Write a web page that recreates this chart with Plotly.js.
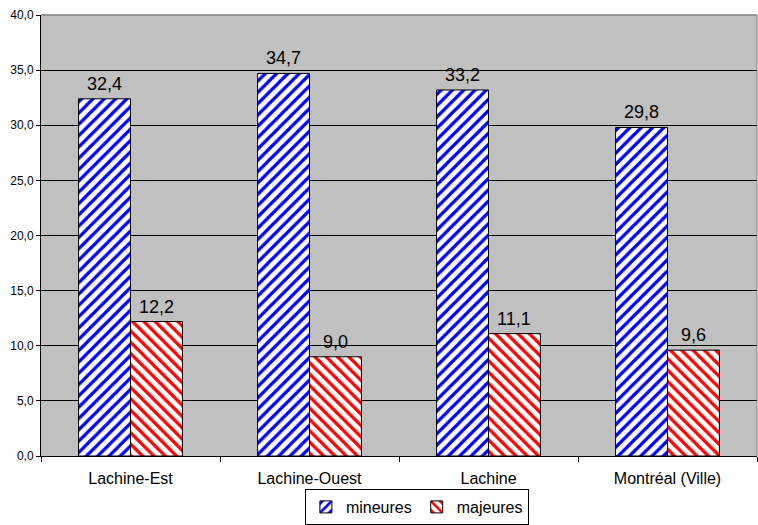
<!DOCTYPE html>
<html><head><meta charset="utf-8">
<script src="https://cdn.plot.ly/plotly-3.0.1.min.js"></script>
<style>body{margin:0;padding:0;background:#fff}#chart{width:758px;height:525px}</style>
</head><body><div id="chart"></div>
<script>
const categories = ["Lachine-Est", "Lachine-Ouest", "Lachine", "Montréal (Ville)"];
const mineures = [32.4, 34.7, 33.2, 29.8];
const majeures = [12.2, 9.0, 11.1, 9.6];
const seriesNames = ["mineures", "majeures"];

const font = "Liberation Sans, Arial, sans-serif";
const bargap = 0.42;
const half = (1 - bargap) / 4;
const fmt = v => v.toFixed(1).replace(".", ",");

const traces = [
  {type:"bar", name:seriesNames[0], x:categories, y:mineures,
   marker:{color:"#ffffff", line:{color:"#000", width:1},
     pattern:{shape:"/", fgcolor:"#0000ff", bgcolor:"#ffffff", size:8, solidity:0.4}}},
  {type:"bar", name:seriesNames[1], x:categories, y:majeures,
   marker:{color:"#ffffff", line:{color:"#000", width:1},
     pattern:{shape:"\\", fgcolor:"#ff0000", bgcolor:"#ffffff", size:8, solidity:0.4}}}
];
const annotations = [];
[mineures, majeures].forEach((arr, s) => {
  arr.forEach((v, i) => {
    annotations.push({x: i + (s === 0 ? -half : half), y: v, xref:"x", yref:"y",
      text: fmt(v), showarrow:false, yanchor:"bottom", yshift:3,
      font:{size:18, color:"#000", family:font}});
  });
});
const layout = {
  width:758, height:525,
  margin:{l:41, r:1, t:15, b:69},
  paper_bgcolor:"#ffffff", plot_bgcolor:"#c0c0c0",
  separators:", ",
  font:{family:font, size:12, color:"#000"},
  bargap:bargap, bargroupgap:0,
  showlegend:true,
  legend:{orientation:"h", x:0.55, xanchor:"center", xref:"container", yref:"container", y:0.0, yanchor:"bottom",
    bordercolor:"#000", borderwidth:1, bgcolor:"#fff", font:{size:16, family:font},
    itemwidth:30, tracegroupgap:0},
  xaxis:{type:"category", showline:true, linecolor:"#000", linewidth:1,
    ticks:"outside", ticklen:5, tickcolor:"#000", tickson:"boundaries",
    tickfont:{size:16}, ticklabelstandoff:8, showgrid:false, zeroline:false},
  yaxis:{range:[0,40], dtick:5, tickformat:".1f", showline:true, linecolor:"#000", linewidth:1,
    ticks:"outside", ticklen:4, tickcolor:"#000", showgrid:true, gridcolor:"#000", gridwidth:1,
    zeroline:false, tickfont:{size:12}},
  annotations: annotations,
  shapes:[
    {type:"line", xref:"paper", yref:"paper", x0:0, x1:1, y0:1, y1:1, line:{color:"#808080", width:1.5}, layer:"above"},
    {type:"line", xref:"paper", yref:"paper", x0:1, x1:1, y0:0, y1:1, line:{color:"#808080", width:1}, layer:"above"}
  ]
};
Plotly.newPlot("chart", traces, layout, {displayModeBar:false, staticPlot:true});
</script></body></html>
